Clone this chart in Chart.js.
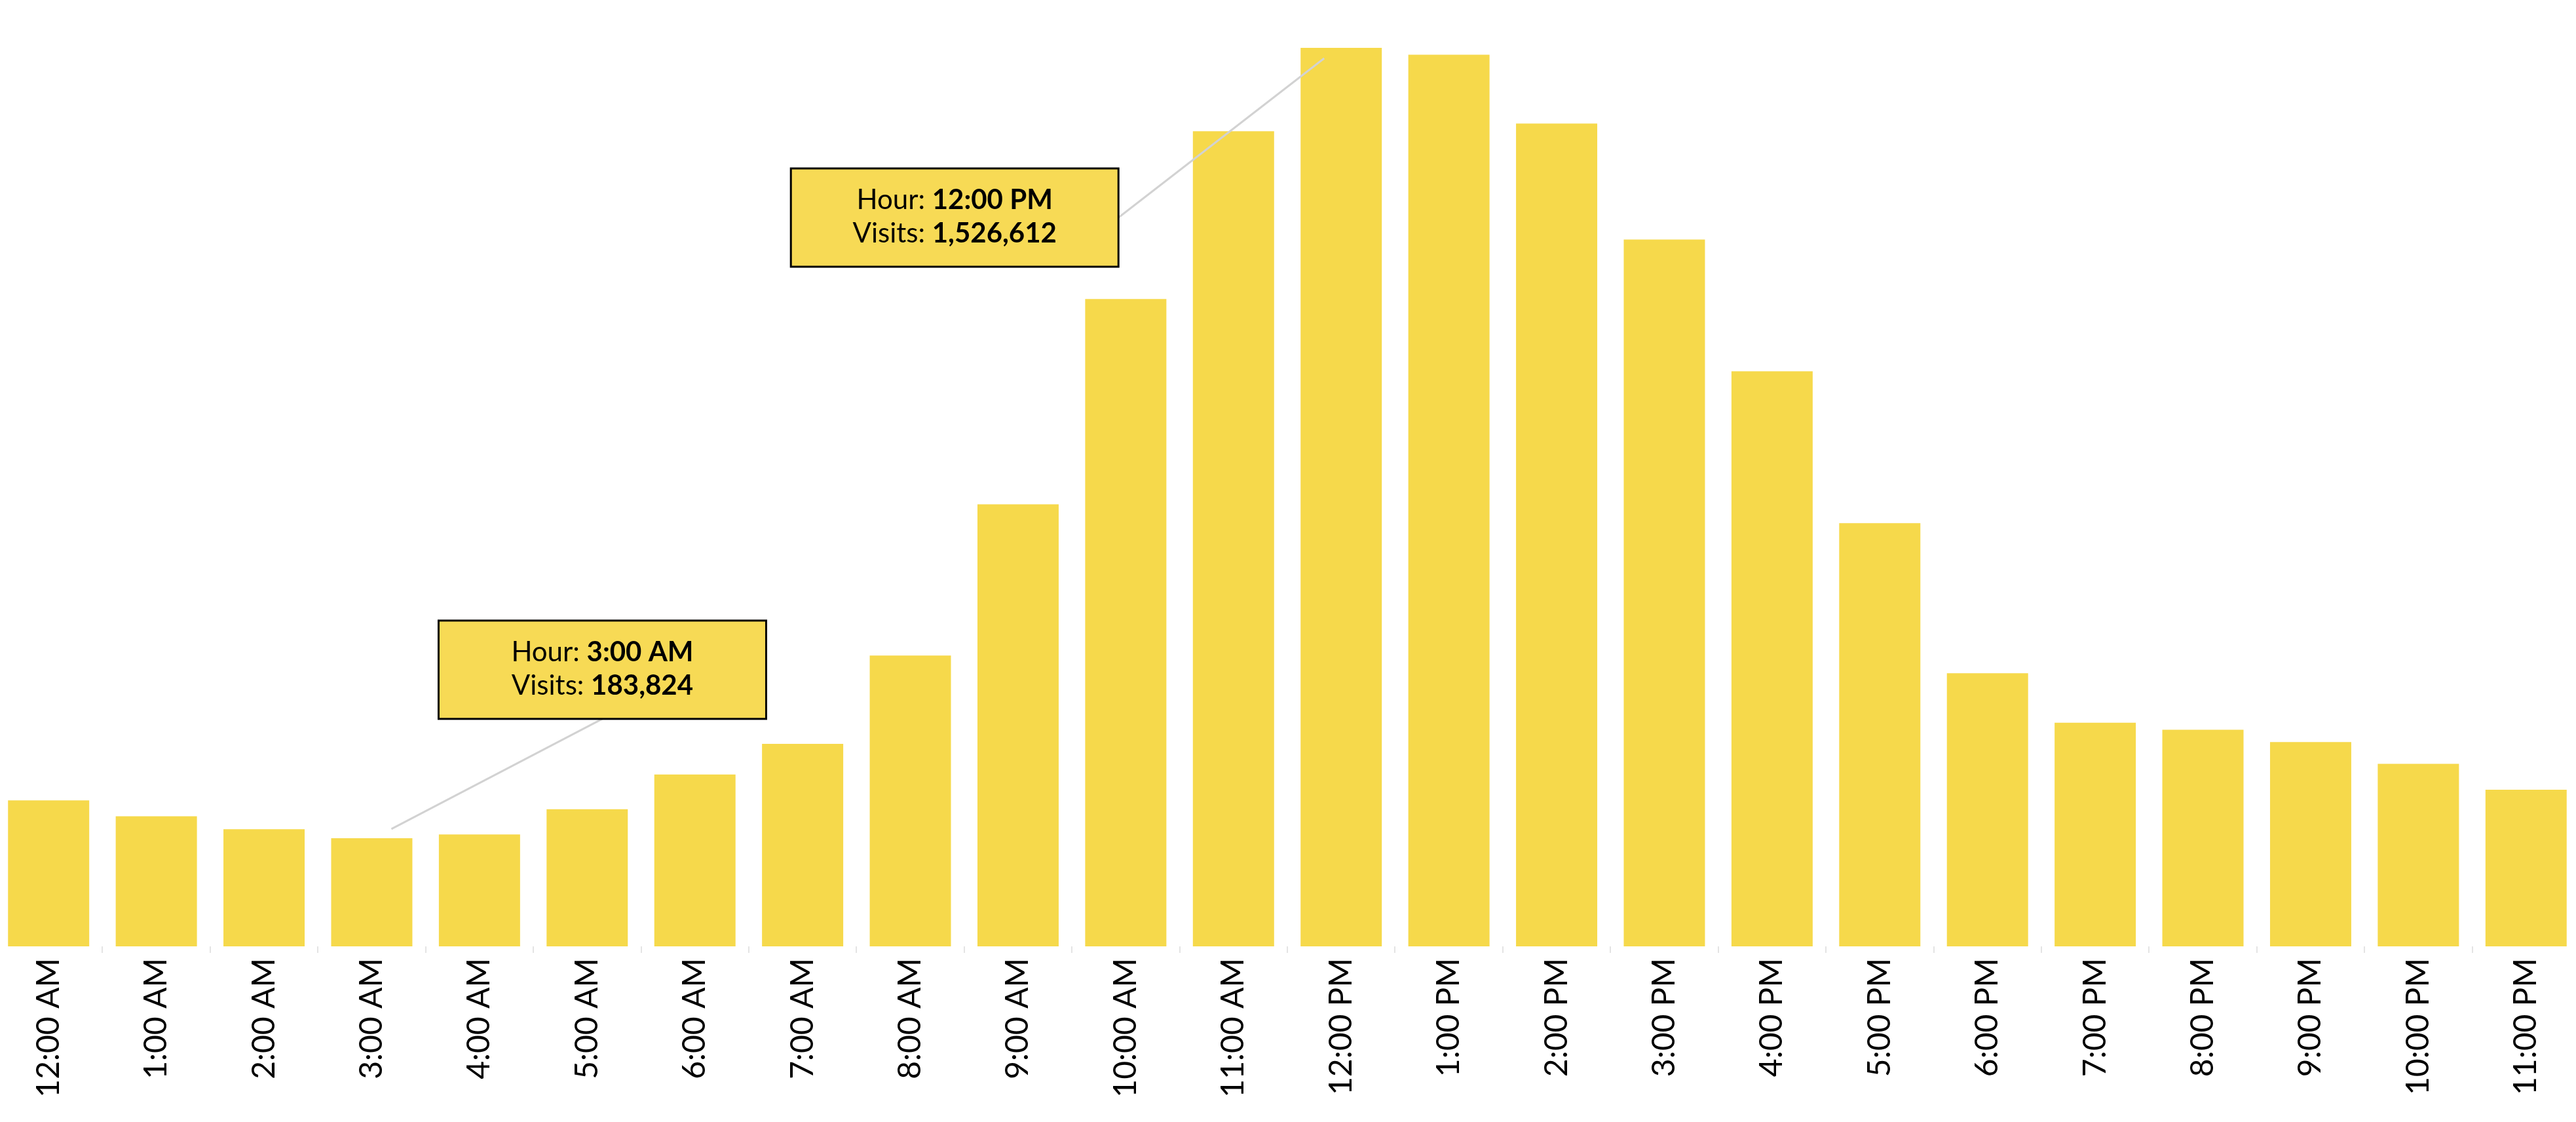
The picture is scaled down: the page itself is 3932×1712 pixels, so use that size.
<!DOCTYPE html>
<html>
<head>
<meta charset="utf-8">
<script src="https://cdn.jsdelivr.net/npm/chart.js@4.4.1/dist/chart.umd.min.js"></script>
<style>
  html, body { margin: 0; padding: 0; background: #fff; overflow: hidden; }
  #wrap { position: absolute; left: -8px; top: 0; width: 3946px; height: 1712px; }
</style>
</head>
<body>
<div id="wrap"><canvas id="myChart"></canvas></div>
<script>
const hours = ['12:00 AM', '1:00 AM', '2:00 AM', '3:00 AM', '4:00 AM', '5:00 AM', '6:00 AM', '7:00 AM',
  '8:00 AM', '9:00 AM', '10:00 AM', '11:00 AM', '12:00 PM', '1:00 PM', '2:00 PM', '3:00 PM',
  '4:00 PM', '5:00 PM', '6:00 PM', '7:00 PM', '8:00 PM', '9:00 PM', '10:00 PM', '11:00 PM'];
const visits = [248000, 221000, 199000, 183824, 190000, 233000, 292000, 344000,
  494000, 751000, 1100000, 1385000, 1526612, 1515000, 1398000, 1201000,
  977000, 719000, 464000, 380000, 368000, 347000, 310000, 266000];
// hours that get a callout box
const calloutHours = ['12:00 PM', '3:00 AM'];

const yellow = '#F6D94B';
const font = 'Lato';

// box placement relative to the bar it points at
const calloutLayout = {
  '12:00 PM': { dx: -590, dy: 184, from: 'right', tipX: -26, tipY: 16 },
  '3:00 AM': { dx: 352, dy: -332, from: 'bottom', tipX: 30, tipY: -14 }
};

const calloutPlugin = {
  id: 'callouts',
  afterDatasetsDraw(chart) {
    const ctx = chart.ctx;
    const bars = chart.getDatasetMeta(0).data;
    const w = 500, h = 150;
    calloutHours.forEach(hr => {
      const i = hours.indexOf(hr);
      const bar = bars[i];
      const lay = calloutLayout[hr];
      const bx = bar.x + lay.dx - w / 2;
      const by = bar.y + lay.dy;
      let sx, sy;
      if (lay.from === 'right') { sx = bx + w; sy = by + h / 2; }
      else { sx = bx + w / 2; sy = by + h; }

      ctx.save();
      ctx.strokeStyle = '#d2d2d2';
      ctx.lineWidth = 3;
      ctx.beginPath();
      ctx.moveTo(sx, sy);
      ctx.lineTo(bar.x + lay.tipX, bar.y + lay.tipY);
      ctx.stroke();

      ctx.fillStyle = '#F7DA55';
      ctx.fillRect(bx, by, w, h);
      ctx.strokeStyle = '#000';
      ctx.lineWidth = 3;
      ctx.strokeRect(bx, by, w, h);

      const rows = [['Hour: ', hr], ['Visits: ', visits[i].toLocaleString('en-US')]];
      ctx.fillStyle = '#000';
      ctx.textBaseline = 'alphabetic';
      ctx.textAlign = 'left';
      rows.forEach((r, k) => {
        ctx.font = '400 42px ' + font;
        const w1 = ctx.measureText(r[0]).width;
        ctx.font = '700 42px ' + font;
        const w2 = ctx.measureText(r[1]).width;
        const x0 = bx + w / 2 - (w1 + w2) / 2;
        const yb = by + 62 + k * 51;
        ctx.font = '400 42px ' + font;
        ctx.fillText(r[0], x0, yb);
        ctx.font = '700 42px ' + font;
        ctx.fillText(r[1], x0 + w1, yb);
      });
      ctx.restore();
    });
  }
};

const data = {
  labels: hours,
  datasets: [{
    label: 'Visits',
    data: visits,
    backgroundColor: yellow,
    borderWidth: 0,
    categoryPercentage: 1,
    barPercentage: 0.754
  }]
};

const config = {
  type: 'bar',
  data: data,
  options: {
    responsive: true,
    maintainAspectRatio: false,
    animation: false,
    layout: { padding: { top: 73, left: 0, right: 0, bottom: 0 } },
    plugins: {
      legend: { display: false },
      title: { display: false },
      tooltip: { enabled: false }
    },
    scales: {
      x: {
        grid: { offset: true, drawOnChartArea: false, tickLength: 10, color: '#e4e4e4', lineWidth: 2 },
        border: { display: false },
        ticks: {
          autoSkip: false,
          minRotation: 90,
          maxRotation: 90,
          padding: 8,
          color: '#000',
          font: { family: font, size: 48 }
        },
        afterFit(scale) { scale.height = 268; }
      },
      y: {
        display: false,
        min: 0,
        max: 1526612
      }
    }
  },
  plugins: [calloutPlugin]
};

var ctx = document.getElementById('myChart');
var myChart = new Chart(ctx, config);
</script>
</body>
</html>
